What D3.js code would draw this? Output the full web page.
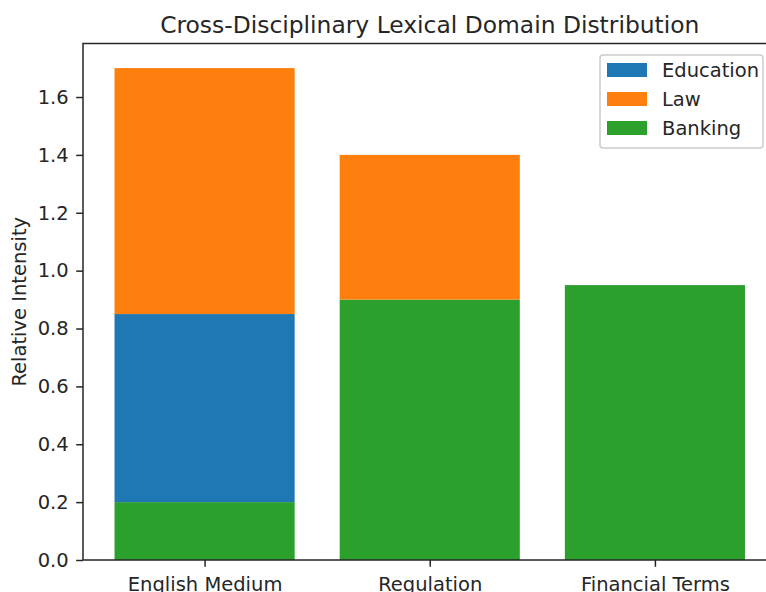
<!DOCTYPE html>
<html>
<head>
<meta charset="utf-8">
<script src="https://cdn.jsdelivr.net/npm/d3@7"></script>
<style>
  body { margin: 0; background: #fff; }
  text { font-family: "DejaVu Sans", sans-serif; fill: #262626; }
</style>
</head>
<body>
<div id="chart"></div>
<script>
// categories and stacked segments
const categories = ["English Medium", "Regulation", "Financial Terms"];
const series = ["Education", "Law", "Banking"];
const colors = ["#1f77b4", "#ff7f0e", "#2ca02c"];
const bankingVals = [0.2, 0.9, 0.95];
const educationVals = [0.65, 0, 0];
const lawVals = [0.85, 0.5, 0];
const yTicks = [0.0, 0.2, 0.4, 0.6, 0.8, 1.0, 1.2, 1.4, 1.6];

const width = 766, height = 592;
const svg = d3.select("#chart").append("svg")
    .attr("width", width)
    .attr("height", height);

// plot area (right spine sits past the window edge, as in the reference)
const plotLeft = 83, plotRight = 776.5, plotTop = 43.5, plotBottom = 560;

// bar width 0.8 of step, 5% margins like matplotlib
const xScale = d3.scaleLinear().domain([-0.54, 2.54]).range([plotLeft, plotRight]);
const yScale = d3.scaleLinear().domain([0, 1.785]).range([plotBottom, plotTop]);

// build stacked segments: banking at bottom, then education, then law
let segs = [];
categories.forEach(function (c, i) {
    let b = 0;
    [[bankingVals[i], colors[2]], [educationVals[i], colors[0]], [lawVals[i], colors[1]]].forEach(function (s) {
        if (s[0] > 0) {
            segs.push({ i: i, y0: b, y1: b + s[0], color: s[1] });
            b += s[0];
        }
    });
});

svg.append("g").selectAll("rect")
    .data(segs).enter()
    .append("rect")
    .attr("x", d => xScale(d.i - 0.4))
    .attr("width", d => xScale(d.i + 0.4) - xScale(d.i - 0.4))
    .attr("y", d => yScale(d.y1))
    .attr("height", d => yScale(d.y0) - yScale(d.y1))
    .attr("fill", d => d.color);

// axes
let xAxis = d3.axisBottom(xScale)
    .tickValues([0, 1, 2])
    .tickFormat(d => categories[d])
    .tickSizeOuter(0)
    .tickSize(6.8)
    .tickPadding(7);
let yAxis = d3.axisLeft(yScale)
    .tickValues(yTicks)
    .tickFormat(d3.format(".1f"))
    .tickSizeOuter(0)
    .tickSize(6.8)
    .tickPadding(7.5);

let gx = svg.append("g")
    .attr("transform", `translate(0,${plotBottom})`)
    .call(xAxis);
let gy = svg.append("g")
    .attr("transform", `translate(${plotLeft},0)`)
    .call(yAxis);

[gx, gy].forEach(function (g) {
    g.select(".domain").remove();
    g.selectAll("line").attr("stroke", "#262626").attr("stroke-width", 1.5);
    g.selectAll("text").style("font-size", "19.5px").attr("fill", "#262626");
});
gx.selectAll("text").attr("y", 31).attr("dy", 0);

// spines
svg.append("rect")
    .attr("x", plotLeft).attr("y", plotTop)
    .attr("width", plotRight - plotLeft).attr("height", plotBottom - plotTop)
    .attr("fill", "none")
    .attr("stroke", "#262626")
    .attr("stroke-width", 1.5);

// title and y label
svg.append("text")
    .attr("x", (plotLeft + plotRight) / 2)
    .attr("y", 33)
    .attr("text-anchor", "middle")
    .style("font-size", "23.4px")
    .text("Cross-Disciplinary Lexical Domain Distribution");

svg.append("text")
    .attr("transform", `translate(26,${(plotTop + plotBottom) / 2}) rotate(-90)`)
    .attr("text-anchor", "middle")
    .style("font-size", "19.5px")
    .text("Relative Intensity");

// legend
let lg = svg.append("g").attr("transform", "translate(600,55)");
lg.append("rect")
    .attr("width", 163).attr("height", 93)
    .attr("rx", 3)
    .attr("fill", "#fff")
    .attr("fill-opacity", 0.8)
    .attr("stroke", "#cccccc")
    .attr("stroke-width", 1.5);
series.forEach(function (s, i) {
    lg.append("rect")
        .attr("x", 7).attr("y", 8 + i * 29)
        .attr("width", 40).attr("height", 14)
        .attr("fill", colors[i]);
    lg.append("text")
        .attr("x", 62).attr("y", 15 + i * 29)
        .attr("dy", "0.35em")
        .style("font-size", "19.5px")
        .text(s);
});
</script>
</body>
</html>
